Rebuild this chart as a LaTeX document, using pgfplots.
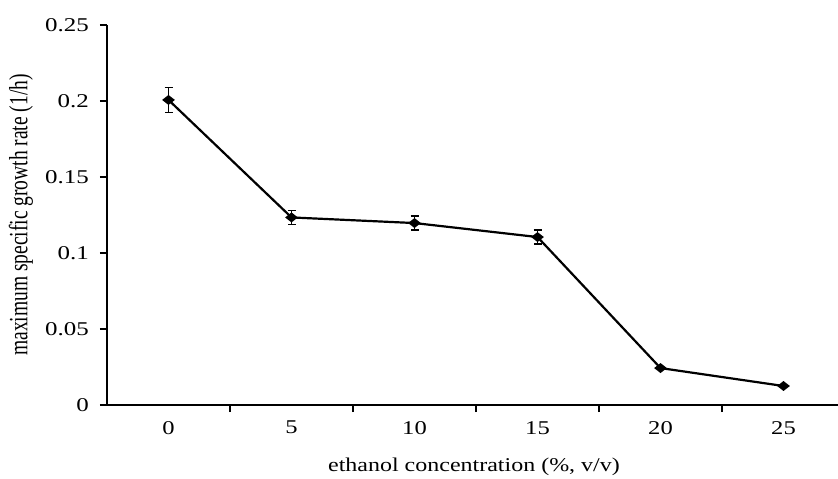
\documentclass[border=0pt]{standalone}
\usepackage{pgfplots}
\pgfplotsset{compat=1.18}
\usepackage{fontspec}
\setmainfont{Liberation Serif}
\pgfplotstableread{
x y e
0 0.2007 0.0083
1 0.1234 0.0045
2 0.1197 0.0047
3 0.1105 0.0046
4 0.0243 0
5 0.0125 0
}\datall
\pgfplotstableread{
x y e
0 0.2007 0.0083
1 0.1234 0.0045
2 0.1197 0.0047
3 0.1105 0.0046
}\daterr
\begin{document}
\fontsize{19.5bp}{22bp}\selectfont
\begin{tikzpicture}[font=\fontsize{19.5bp}{22bp}\selectfont]
\begin{axis}[
  at={(107bp,74bp)}, anchor=south west,
  scale only axis, width=731bp, height=380bp,
  xmin=-0.5, xmax=5.443, ymin=0, ymax=0.25,
  axis lines=left,
  axis line style={-, line width=1.5bp, black},
  xtick={0,1,2,3,4,5}, xticklabels={0,5,10,15,20,25},
  minor xtick={0.5,1.5,2.5,3.5,4.5},
  major x tick style={draw=none},
  ytick={0,0.05,0.1,0.15,0.2,0.25},
  yticklabels={0,0.05,0.1,0.15,0.2,0.25},
  scaled y ticks=false,
  tick style={black, line width=1.1bp},
  tick align=outside, major tick length=7bp, minor tick length=7bp,
  /pgf/number format/assume math mode=true,
  xticklabel style={anchor=north, inner sep=0pt, yshift=-9bp, xscale=1.26},
  yticklabel style={anchor=east, inner sep=0pt, xshift=-11bp, xscale=1.28},
  xlabel={ethanol concentration (\%, v/v)},
  ylabel={maximum specific growth rate (1/h)},
  xlabel style={at={(axis description cs:0.502,-0.163)}, anchor=center, xscale=1.23},
  ylabel style={at={(axis description cs:-0.1176,0.5)}, anchor=center, yscale=1.35},
  clip=false,
]
\addplot[black, line width=2.2bp, mark=diamond*, mark size=3.6bp,
  mark options={solid, fill=black, xscale=1.7}] table[x=x, y=y] {\datall};
\addplot[black, only marks, mark=none, forget plot,
  error bars/.cd, y dir=both, y explicit,
  error bar style={black, line width=1.4bp},
  error mark=|,
  error mark options={black, mark size=4bp, line width=1.4bp}]
  table[x=x, y=y, y error=e] {\daterr};
\end{axis}
\pgfresetboundingbox
\useasboundingbox (0,0) rectangle (838bp,479bp);
\end{tikzpicture}
\end{document}
